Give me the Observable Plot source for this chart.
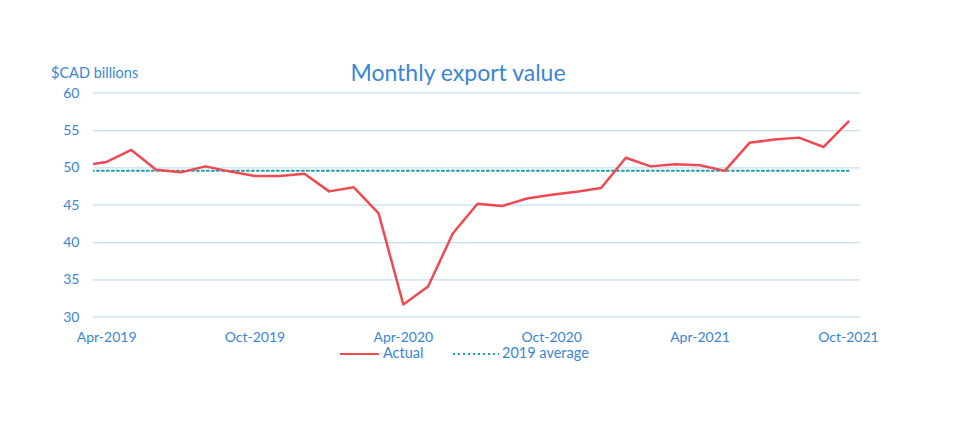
<!DOCTYPE html>
<html>
<head>
<meta charset="utf-8">
<script src="https://cdn.jsdelivr.net/npm/d3@7"></script>
<script src="https://cdn.jsdelivr.net/npm/@observablehq/plot@0.6"></script>
<style>
  html, body { margin: 0; padding: 0; background: #fff; }
  #wrap { position: relative; width: 973px; height: 427px; font-family: Lato, "Open Sans", sans-serif; color: #3a86d4; }
  .t { position: absolute; white-space: nowrap; }
  #title { left: 0; width: 916px; top: 58px; text-align: center; font-size: 23px; }
  #ylab { left: 51px; top: 64px; font-size: 14.5px; }
  .lg { position: absolute; white-space: nowrap; font-size: 14.5px; top: 344px; }
  .sw { position: absolute; height: 0; }
</style>
</head>
<body>
<div id="wrap">
  <div id="chart"></div>
  <div class="t" id="title">Monthly export value</div>
  <div class="t" id="ylab">$CAD billions</div>
  <span class="sw" style="left:340px; width:39px; top:353px; border-top:2.5px solid #ef4a52"></span>
  <span class="lg" style="left:383px">Actual</span>
  <svg class="sw" style="left:453px; top:352px; width:46px; height:4px; overflow:visible"><line x1="0" x2="46" y1="2" y2="2" stroke="#1aa0a8" stroke-width="2" stroke-dasharray="2,3"></line></svg>
  <span class="lg" style="left:502px">2019 average</span>
</div>
<script>
// Months from Mar-2019 (index -1) to Oct-2021 (index 30)
const months = ["Mar-2019","Apr-2019","May-2019","Jun-2019","Jul-2019","Aug-2019","Sep-2019","Oct-2019","Nov-2019","Dec-2019",
  "Jan-2020","Feb-2020","Mar-2020","Apr-2020","May-2020","Jun-2020","Jul-2020","Aug-2020","Sep-2020","Oct-2020","Nov-2020","Dec-2020",
  "Jan-2021","Feb-2021","Mar-2021","Apr-2021","May-2021","Jun-2021","Jul-2021","Aug-2021","Sep-2021","Oct-2021"];
const actual = [50.3, 50.8, 52.4, 49.75, 49.4, 50.2, 49.5, 48.9, 48.9, 49.2,
  46.85, 47.4, 43.9, 31.7, 34.1, 41.2, 45.2, 44.9, 45.9, 46.4, 46.8, 47.3,
  51.35, 50.2, 50.5, 50.35, 49.6, 53.35, 53.8, 54.05, 52.8, 56.2];
const avg2019 = 49.6;
const tickLabels = ["Apr-2019","Oct-2019","Apr-2020","Oct-2020","Apr-2021","Oct-2021"];
const yTicks = [30, 35, 40, 45, 50, 55, 60];

const idx = m => months.indexOf(m) - 1;
const rows = months.map((m, i) => ({x: i - 1, actual: actual[i], avg: avg2019}));

const chart = Plot.plot({
  width: 973,
  height: 427,
  marginLeft: 93,
  marginRight: 113,
  marginTop: 92.7,
  marginBottom: 110.3,
  style: {fontFamily: "Lato, 'Open Sans', sans-serif", fontSize: "14px", color: "#3a86d4", background: "transparent"},
  x: {domain: [-0.53, 30.49], label: null},
  y: {domain: [30, 60], label: null},
  marks: [
    Plot.gridY(yTicks, {stroke: "#c6ddef", strokeOpacity: 1, strokeWidth: 1.2}),
    Plot.axisX({ticks: tickLabels.map(idx), tickFormat: d => months[d + 1], tickSize: 0, tickPadding: 15, label: null, fill: "#3a86d4"}),
    Plot.axisY({ticks: yTicks, tickSize: 0, tickPadding: 14, label: null, fill: "#3a86d4"}),
    Plot.line(rows, {x: "x", y: "avg", stroke: "#1aa0a8", strokeWidth: 2, strokeDasharray: "2,3", clip: true}),
    Plot.line(rows, {x: "x", y: "actual", stroke: "#ef4a52", strokeWidth: 2.5, clip: true})
  ]
});
document.getElementById("chart").appendChild(chart);
</script>
</body>
</html>
